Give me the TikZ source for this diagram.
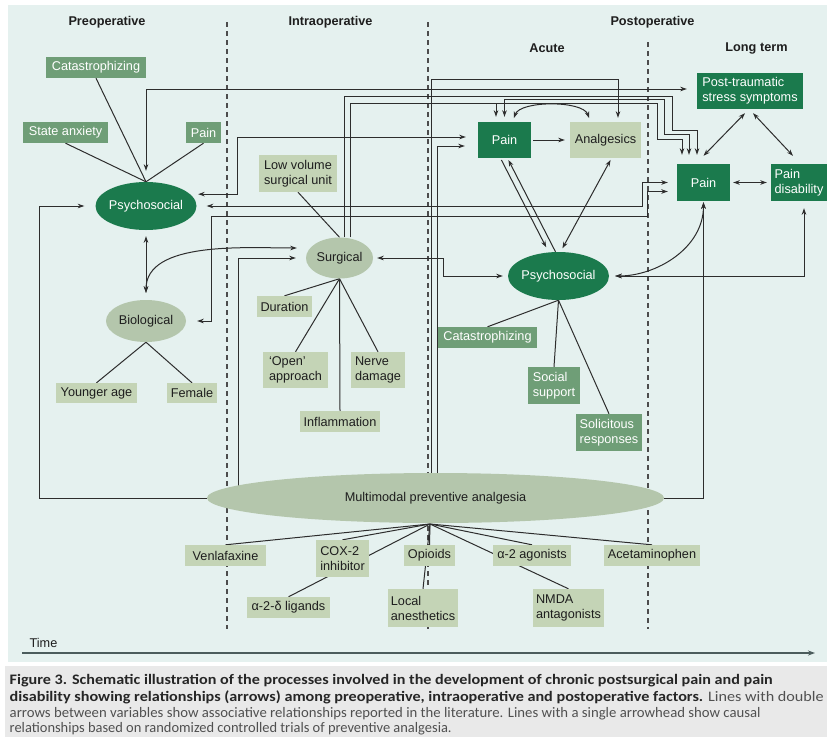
\documentclass[tikz,border=0pt]{standalone}
\usepackage{fontspec}
\usepackage{graphicx}
\setmainfont{Liberation Sans}
\newfontfamily\capfont{Carlito}
\usetikzlibrary{shapes.geometric,arrows.meta,calc}
\definecolor{panel}{RGB}{229,241,239}
\definecolor{capbg}{RGB}{233,233,233}
\definecolor{dkg}{RGB}{27,122,77}
\definecolor{mdg}{RGB}{111,158,119}
\definecolor{ltg}{RGB}{196,212,182}
\definecolor{elg}{RGB}{180,198,172}
\definecolor{ink}{RGB}{45,45,45}
\definecolor{txt}{RGB}{30,30,30}
\definecolor{capbold}{RGB}{38,38,38}
\definecolor{capreg}{RGB}{80,80,80}
\definecolor{timec}{RGB}{75,92,92}
\pgfdeclarelayer{back}
\pgfdeclarelayer{divs}
\pgfdeclarelayer{lines}
\pgfdeclarelayer{mmlay}
\pgfsetlayers{back,divs,lines,mmlay,main}
\tikzset{
  lab/.style={font=\fontsize{12.7}{15}\selectfont, inner sep=0pt, align=center},
  sz/.style 2 args={minimum width=#1pt, minimum height=#2pt},
  dbox/.style={lab, rectangle, fill=dkg, text=white},
  mbox/.style={lab, rectangle, fill=mdg, text=white},
  lbox/.style={lab, rectangle, fill=ltg, text=txt},
  dell/.style={lab, ellipse, fill=dkg, text=white, inner xsep=-6pt},
  lell/.style={lab, ellipse, fill=elg, text=txt},
  hd/.style={font=\fontsize{12.7}{15}\selectfont\bfseries, text=txt, inner sep=0pt},
  con/.style={draw=ink, line width=1pt},
  arr/.style={con, -{Stealth[length=6.5pt,width=4.5pt]}, shorten >=5pt},
  darr/.style={con, {Stealth[length=6.5pt,width=4.5pt]}-{Stealth[length=6.5pt,width=4.5pt]}, shorten >=5pt, shorten <=5pt},
  divider/.style={draw=ink!85, line width=1.1pt, dash pattern=on 5pt off 4pt},
  captxt/.style={font=\capfont\fontsize{14.5}{17}\selectfont, inner sep=0pt, anchor=base west},
}
\begin{document}
\begin{tikzpicture}[x=1pt,y=-1pt]
\useasboundingbox (0,0) rectangle (827,737);

% headings
\node[hd] (hPre) at (107,22) {Preoperative};
\node[hd] (hIntra) at (330.5,22) {Intraoperative};
\node[hd] (hPost) at (652.5,22) {Postoperative};
\node[hd] (hAcute) at (547,48) {Acute};
\node[hd] (hLong) at (756.5,48) {Long term};

% preoperative
\node[mbox,sz={100}{21}] (catA) at (96,67.5) {Catastrophizing};
\node[mbox,sz={85}{21}] (anx) at (65.5,132.5) {State anxiety};
\node[mbox,sz={35}{21}] (painP) at (203.5,132.5) {Pain};
\node[dell,sz={101}{48}] (psyP) at (146,206) {Psychosocial};
\node[lell,sz={80}{42}] (bio) at (146,321) {Biological};
\node[lbox,sz={81}{20}] (young) at (96.5,393) {Younger age};
\node[lbox,sz={50}{20}] (female) at (192,393) {Female};

% intraoperative
\node[lbox,sz={78}{37}] (lowvol) at (298,173.5) {Low volume\\surgical unit};
\node[lell,sz={67}{41}] (surg) at (339.5,258) {Surgical};
\node[lbox,sz={55}{21}] (dur) at (284.5,306.5) {Duration};
\node[lbox,sz={65}{36},align=left] (open) at (295.5,370) {‘Open’\\approach};
\node[lbox,sz={54}{36},align=left] (nerve) at (378,370) {Nerve\\damage};
\node[lbox,sz={80}{21}] (infl) at (340,421.5) {Inflammation};

% acute
\node[dbox,sz={53}{36}] (painA) at (504.5,140) {Pain};
\node[lbox,sz={71}{36}] (analg) at (605.5,140) {Analgesics};
\node[dell,sz={101}{48}] (psyA) at (558.5,276) {Psychosocial};
\node[mbox,sz={99}{21}] (catB) at (487.5,337.5) {Catastrophizing};
\node[mbox,sz={52}{37},align=left] (social) at (554,385.5) {Social\\support};
\node[mbox,sz={66}{37},align=left] (solic) at (609,432.5) {Solicitous\\responses};

% long term
\node[dbox,sz={106}{36},align=left] (ptss) at (750,91) {Post-traumatic\\stress symptoms};
\node[dbox,sz={53}{37}] (painL) at (703.5,182.5) {Pain};
\node[dbox,sz={56}{37},align=left] (disab) at (799,182.5) {Pain\\disability};

% multimodal
\begin{pgfonlayer}{mmlay}
\node[lell,sz={457}{50}] (mm) at (435.5,498) {Multimodal preventive analgesia};
\end{pgfonlayer}

% drugs
\node[lbox,sz={81}{21}] (venla) at (225.5,555.5) {Venlafaxine};
\node[lbox,sz={53}{37},align=left] (cox) at (342.5,558.5) {COX-2\\inhibitor};
\node[lbox,sz={51}{21}] (opio) at (429.5,555.5) {Opioids};
\node[lbox,sz={78}{21}] (a2ag) at (532,555.5) {α-2 agonists};
\node[lbox,sz={96}{21}] (acet) at (652,555.5) {Acetaminophen};
\node[lbox,sz={83}{21}] (a2d) at (288.5,607.5) {α-2-δ ligands};
\node[lbox,sz={70}{38},align=left] (local) at (423,608) {Local\\anesthetics};
\node[lbox,sz={71}{38},align=left] (nmda) at (568.5,608) {NMDA\\antagonists};

\coordinate (fan) at (430,524);

% time axis
\node[font=\fontsize{12.7}{15}\selectfont, text=txt, inner sep=0pt] (timelbl) at (43.5,643) {Time};
\coordinate (t0) at (22,653);
\coordinate (t1) at (815,653);
\draw[draw=timec, line width=1.6pt, -{Stealth[length=7pt,width=5pt]}] (t0) -- (t1);

% caption
\node[captxt] (cap1) at (9.5,684.5) {\resizebox{763pt}{\height}{\color{capbold}\bfseries Figure 3. Schematic illustration of the processes involved in the development of chronic postsurgical pain and pain}};
\node[captxt] (cap2) at (9.5,701) {\resizebox{814pt}{\height}{{\color{capbold}\bfseries disability showing relationships (arrows) among preoperative, intraoperative and postoperative factors.} {\color{capreg}Lines with double}}};
\node[captxt] (cap3) at (9.5,717) {\resizebox{751pt}{\height}{\color{capreg}arrows between variables show associative relationships reported in the literature. Lines with a single arrowhead show causal}};
\node[captxt] (cap4) at (9.5,732.5) {\resizebox{442pt}{\height}{\color{capreg}relationships based on randomized controlled trials of preventive analgesia.}};

% backgrounds
\begin{pgfonlayer}{back}
\fill[panel] (8,5) rectangle (827,662);
\fill[capbg] (5,666) rectangle (827,737);
\end{pgfonlayer}

% dividers
\begin{pgfonlayer}{divs}
\draw[divider] (227,22) -- (227,629);
\draw[divider] (428,22) -- (428,629);
\draw[divider] (648,42) -- (648,629);
\end{pgfonlayer}

% connectors
\begin{pgfonlayer}{lines}
% preop spokes
\draw[con] (catA.south) -- (psyP.north);
\draw[con] (anx.south) -- (psyP.north);
\draw[con] (painP.south) -- (psyP.north);
% psyP <-> PTSS
\draw[darr, shorten <=11pt, shorten >=10pt] (psyP.north) |- ($(ptss.west)+(0,-2)$);
% psyP <-> acute pain
\draw[darr, shorten <=8pt, shorten >=12pt] (psyP.15) -- ++(47.3,0) |- ($(painA.west)+(0,-3)$);
% psyP <-> long-term pain
\draw[darr, shorten <=10pt, shorten >=9pt] (psyP.east) -| ($(painL.west)+(-34.5,0)$) -- (painL.west);
% bio <-> long-term pain
\draw[darr, shorten <=11pt, shorten >=9pt] (bio.east) -- ++(25,0) -- ++(0,-105) -| ($(painL.west)+(-29.5,9)$) -- ($(painL.west)+(0,9)$);
% psyP <-> bio
\draw[darr, shorten <=6pt, shorten >=7pt] (psyP.south) -- (bio.north);
% bio <-> surgical
\draw[darr, shorten <=7pt, shorten >=9pt] (bio.north) to[out=90,in=180,looseness=0.9] ($(surg.west)+(0,-10)$);
% multimodal -> surgical
\draw[arr, shorten >=10pt] ($(mm.center)+(-197.5,0)$) |- (surg.west);
% multimodal -> psyP
\draw[arr, shorten >=11pt] (mm.west) -- ++(-167,0) |- (psyP.west);
% multimodal -> long-term pain
\draw[arr, shorten >=1pt] (mm.east) -| (painL.south);
% psyA <-> long-term pain (curve)
\draw[darr, shorten <=6pt, shorten >=1pt] (psyA.east) to[out=0,in=-90] (painL.south);
% pain disability <-> psyA
\draw[darr, shorten <=7pt, shorten >=6pt] ($(disab.south)+(5,0)$) |- (psyA.east);
% surgical <-> psyA
\draw[darr, shorten <=4pt, shorten >=5pt] (surg.east) -- ++(70,0) |- (psyA.west);
% multimodal -> acute pain
\draw[arr, shorten >=13pt] ($(mm.center)+(1.5,0)$) |- ($(painA.west)+(0,6)$);
% multimodal -> analgesics
\draw[arr, shorten >=4pt] ($(mm.center)+(-4.5,0)$) |- ($(analg.north)+(12.5,-42)$) -- ($(analg.north)+(12.5,0)$);
% surgical -> long-term pain
\draw[arr, shorten >=9pt] ($(surg.north)+(4.5,0)$) -- ++(0,-141) -| ++(328,34) -| ($(painL.north)+(-6.5,0)$);
% surgical -> acute pain, and on to long-term pain
\draw[arr, shorten >=5pt] ($(surg.north)+(10.5,0)$) |- ($(painA.north)+(-8.5,-18)$) -- ($(painA.north)+(-8.5,0)$);
\draw[arr, shorten >=9pt] ($(painA.north)+(-8.5,-18)$) -| ++(161,36) -| ($(painL.north)+(-21.5,0)$);
% acute pain <-> long-term pain
\draw[darr, shorten <=5pt, shorten >=9pt] (painA.north) -- ++(0,-22) -| ++(159.5,35) -| ($(painL.north)+(-14.5,0)$);
% acute pain -> analgesics
\draw[arr, shorten <=2pt, shorten >=5pt] (painA.east) -- (analg.west);
\draw[darr, shorten <=4pt, shorten >=4pt] ($(painA.north)+(8,0)$) to[out=70,in=110,looseness=0.75] ($(analg.north)+(-15,0)$);
% acute pain / analgesics / psyA
\draw[arr, shorten <=2pt] ($(painA.south)+(-4,0)$) -- ($(psyA.north)+(-10,0)$);
\draw[arr, shorten >=2pt] ($(psyA.north)+(-3,0)$) -- ($(painA.south)+(3,0)$);
\draw[darr, shorten <=2pt, shorten >=4pt] ($(analg.south)+(6,0)$) -- ($(psyA.north)+(2,0)$);
% psyA spokes
\draw[con] (psyA.south) -- (catB.north);
\draw[con] (psyA.south) -- (social.north);
\draw[con] (psyA.south) -- (solic.north);
% surgical spokes
\draw[con] (lowvol.south) -- (surg.north);
\draw[con] (surg.south) -- (dur.north);
\draw[con] (surg.south) -- (open.north);
\draw[con] (surg.south) -- (infl.north);
\draw[con] (surg.south) -- (nerve.north);
% biological spokes
\draw[con] (bio.south) -- (young.north);
\draw[con] (bio.south) -- (female.north);
% long term triangle
\draw[darr, shorten <=0pt, shorten >=0pt] ($(painL.north)+(0,-8)$) -- ($(ptss.south)+(-5,4)$);
\draw[darr, shorten <=0pt, shorten >=0pt] ($(ptss.south)+(3,4)$) -- ($(disab.north)+(-6,-8)$);
\draw[darr, shorten <=3pt, shorten >=4pt] (painL.east) -- (disab.west);
% multimodal fan
\draw[con] (fan) -- (venla.north);
\draw[con] (fan) -- (cox.north);
\draw[con] (fan) -- (a2d.north);
\draw[con] (fan) -- (opio.north);
\draw[con] (fan) -- (local.north);
\draw[con] (fan) -- (a2ag.north);
\draw[con] (fan) -- (nmda.north);
\draw[con] (fan) -- (acet.north);
\end{pgfonlayer}
\end{tikzpicture}
\end{document}
